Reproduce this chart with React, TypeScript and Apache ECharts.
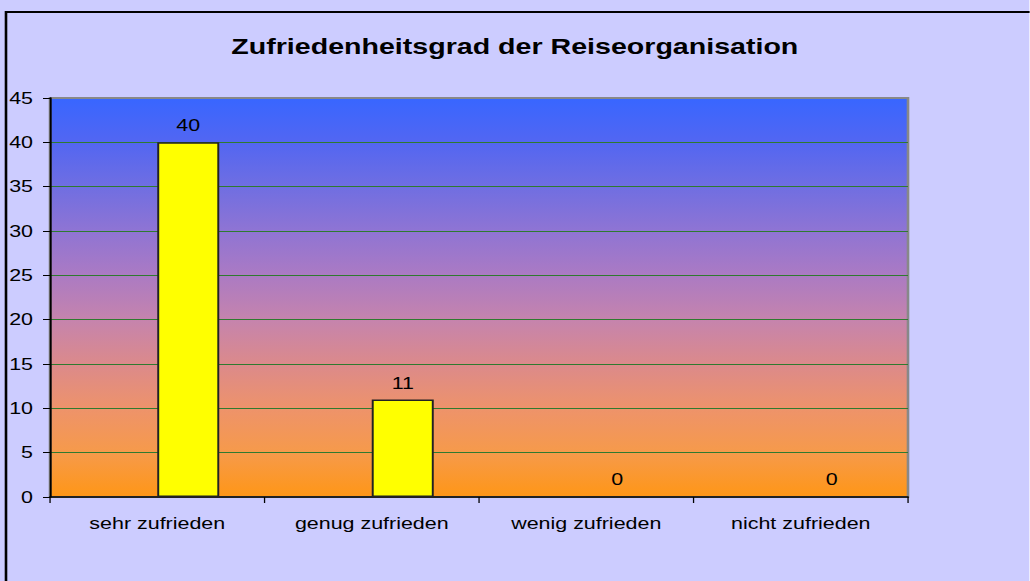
import React, { useEffect, useRef } from "react";
import * as echarts from "echarts";

const categories = ["sehr zufrieden", "genug zufrieden", "wenig zufrieden", "nicht zufrieden"];
const values = [40, 11, 0, 0];
const emptySeries = ["-", "-", "-", "-"];
const yTicks = { min: 0, max: 45, interval: 5 };
const title = "Zufriedenheitsgrad der Reiseorganisation";

// The reference is horizontally stretched; render narrower then scale in x.
const SX = 1.3;
const W = 1030 / SX;
const H = 581;

export default function App() {
  const ref = useRef<HTMLDivElement>(null);
  useEffect(() => {
    document.body.style.margin = "0";
    document.body.style.overflow = "hidden";
    const chart = echarts.init(ref.current!, null, { renderer: "svg" });
    const font = "Liberation Sans, Arial, sans-serif";
    chart.setOption({
      animation: false,
      backgroundColor: "#ccccff",
      textStyle: { fontFamily: font },
      title: {
        text: title,
        left: "center",
        top: 30,
        textStyle: { fontSize: 22, fontWeight: "bold", color: "#000", fontFamily: font },
      },
      graphic: [
        {
          type: "rect",
          shape: { x: 6 / SX, y: 12, width: W + 50, height: H + 50 },
          style: { fill: "none", stroke: "#000", lineWidth: 2 },
          silent: true,
        },
      ],
      grid: {
        left: 50 / SX,
        top: 98,
        width: 858 / SX,
        height: 399,
        show: true,
        borderColor: "#888888",
        borderWidth: 2,
        backgroundColor: {
          type: "linear",
          x: 0, y: 0, x2: 0, y2: 1,
          colorStops: [
            { offset: 0, color: "#3866ff" },
            { offset: 0.11, color: "#5266f2" },
            { offset: 0.22, color: "#6f6ee2" },
            { offset: 0.33, color: "#8e74d4" },
            { offset: 0.44, color: "#aa7ac4" },
            { offset: 0.56, color: "#c684ac" },
            { offset: 0.67, color: "#dc8a8a" },
            { offset: 0.78, color: "#ee936a" },
            { offset: 0.89, color: "#f69a4a" },
            { offset: 1, color: "#ff9616" },
          ],
        },
      },
      xAxis: {
        type: "category",
        data: categories,
        axisLine: { show: true, lineStyle: { color: "#000", width: 1.5 } },
        axisTick: { show: true, alignWithLabel: false, length: 6, lineStyle: { color: "#000" } },
        axisLabel: { color: "#000", fontSize: 16.5, margin: 18, fontFamily: font },
      },
      yAxis: {
        type: "value",
        min: yTicks.min,
        max: yTicks.max,
        interval: yTicks.interval,
        axisLine: { show: true, lineStyle: { color: "#000", width: 1.5 } },
        axisTick: { show: true, length: 7 / SX, lineStyle: { color: "#000" } },
        axisLabel: { color: "#000", fontSize: 16.5, margin: 17 / SX, fontFamily: font },
        splitLine: {
          show: true,
          showMaxLine: false,
          showMinLine: false,
          lineStyle: { color: "#2f7a2f", width: 1 },
        },
      },
      series: [
        {
          type: "bar",
          data: emptySeries,
          barWidth: 62 / SX,
          barGap: "0%",
          itemStyle: { color: "transparent" },
          silent: true,
        },
        {
          type: "bar",
          data: values,
          barWidth: 62 / SX,
          barGap: "0%",
          itemStyle: { color: "#ffff00", borderColor: "#222", borderWidth: 1.5 },
          label: {
            show: true,
            position: "top",
            distance: 8,
            color: "#000",
            fontSize: 16.5,
            fontFamily: font,
          },
        },
      ],
    });
    return () => chart.dispose();
  }, []);
  return (
    <div
      ref={ref}
      style={{
        width: W,
        height: H,
        transform: `scaleX(${SX})`,
        transformOrigin: "0 0",
      }}
    />
  );
}
